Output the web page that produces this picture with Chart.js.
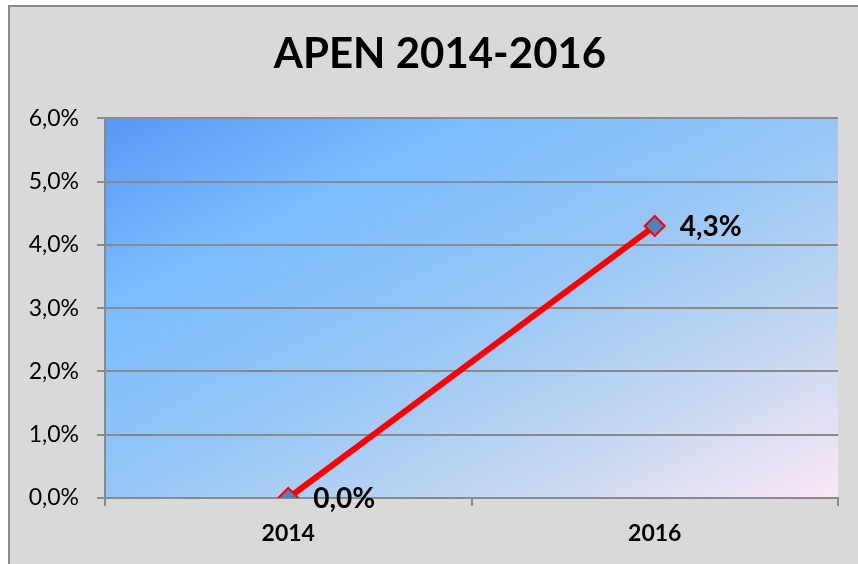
<!DOCTYPE html>
<html>
<head>
<meta charset="utf-8">
<script src="https://cdn.jsdelivr.net/npm/chart.js@4"></script>
<style>
  html, body { margin: 0; padding: 0; background: #ffffff; }
  #wrap { width: 858px; height: 564px; }
</style>
</head>
<body>
<div id="wrap"><canvas id="chart" width="858" height="564"></canvas></div>
<script>
var years = ['2014', '2016'];
var apen = [0.0, 4.3];
var yTicks = [0, 1, 2, 3, 4, 5, 6];

function pct(v) {
    return v.toFixed(1).replace('.', ',') + '%';
}

// frame + gradient plot background
var background = {
    id: 'background',
    afterLayout: function(chart) {
        // let the y labels use the space left of the padding (no clipping)
        chart.scales.y.left = 0;
    },
    beforeDraw: function(chart) {
        var ctx = chart.ctx;
        var a = chart.chartArea;
        ctx.save();
        ctx.fillStyle = '#d9d9d9';
        ctx.fillRect(9, 6, chart.width, chart.height);
        ctx.strokeStyle = '#8a8a8a';
        ctx.lineWidth = 2;
        ctx.beginPath();
        ctx.moveTo(9, chart.height);
        ctx.lineTo(9, 6);
        ctx.lineTo(chart.width, 6);
        ctx.stroke();

        var g = ctx.createLinearGradient(a.left, a.top, a.left + 311, a.top + 599);
        g.addColorStop(0, '#5898f6');
        g.addColorStop(0.25, '#7cbdff');
        g.addColorStop(0.5, '#95c6f6');
        g.addColorStop(0.75, '#c2d6f1');
        g.addColorStop(1, '#fbe7f6');
        ctx.fillStyle = g;
        ctx.fillRect(a.left, a.top, a.right - a.left, a.bottom - a.top);
        ctx.restore();
    }
};

// value labels next to the points
var valueLabels = {
    id: 'valueLabels',
    afterDatasetsDraw: function(chart) {
        var ctx = chart.ctx;
        var meta = chart.getDatasetMeta(0);
        ctx.save();
        ctx.font = 'bold 28px Lato';
        ctx.fillStyle = '#000';
        ctx.textBaseline = 'middle';
        meta.data.forEach(function(pt, i) {
            ctx.fillText(pct(apen[i]), pt.x + 25, pt.y + 1);
        });
        ctx.restore();
    }
};

var ctx = document.getElementById('chart').getContext('2d');
var myChart = new Chart(ctx, {
    type: 'line',
    data: {
        labels: years,
        datasets: [{
            label: 'APEN',
            data: apen,
            borderColor: '#ff0000',
            borderWidth: 6,
            pointStyle: 'rectRot',
            pointRadius: 10,
            pointBackgroundColor: '#4f81bd',
            pointBorderColor: '#ff0000',
            pointBorderWidth: 2,
            tension: 0
        }]
    },
    options: {
        responsive: false,
        animation: false,
        layout: {
            padding: { top: 6, right: 20, left: 42, bottom: 0 }
        },
        plugins: {
            legend: { display: false },
            tooltip: { enabled: false },
            title: {
                display: true,
                text: 'APEN 2014-2016',
                color: '#000',
                font: { family: 'Lato', size: 42, weight: 'bold', lineHeight: 1.2 },
                padding: { top: 23, bottom: 39 }
            }
        },
        scales: {
            x: {
                offset: true,
                grid: {
                    offset: true,
                    drawOnChartArea: false,
                    drawTicks: true,
                    tickLength: 8,
                    color: '#8a8a8a',
                    lineWidth: 2
                },
                border: { display: true, color: '#8a8a8a', width: 2 },
                ticks: {
                    color: '#000',
                    padding: 14,
                    font: { family: 'Lato', size: 23, weight: 'bold' }
                },
                afterFit: function(scale) { scale.height = 66; }
            },
            y: {
                min: 0,
                max: 6,
                afterBuildTicks: function(scale) {
                    scale.ticks = yTicks.map(function(v) { return { value: v }; });
                },
                grid: {
                    color: '#8a8a8a',
                    lineWidth: 2,
                    tickLength: 8
                },
                border: { display: true, color: '#8a8a8a', width: 2 },
                ticks: {
                    color: '#000',
                    padding: 18,
                    font: { family: 'Lato', size: 23 },
                    callback: function(v) { return pct(v); }
                },
                afterFit: function(scale) { scale.width = 63; }
            }
        }
    },
    plugins: [background, valueLabels]
});
</script>
</body>
</html>
